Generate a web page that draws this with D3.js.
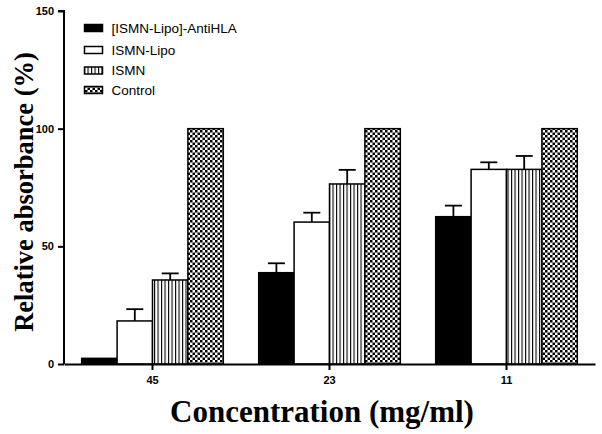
<!DOCTYPE html>
<html><head><meta charset="utf-8">
<script src="https://cdn.jsdelivr.net/npm/d3@7"></script>
<style>body{margin:0;background:#fff}</style>
</head><body>
<svg id="c" width="602" height="434"></svg>
<script>
const categories = ["45", "23", "11"];
const seriesNames = ["[ISMN-Lipo]-AntiHLA", "ISMN-Lipo", "ISMN", "Control"];
const antiHLA = [2.4, 38.8, 62.6];
const antiHLAErr = [0, 4, 4.7];
const lipo = [18.3, 60.3, 82.7];
const lipoErr = [5, 4, 3];
const ismn = [35.7, 76.5, 82.7];
const ismnErr = [2.8, 6, 5.7];
const control = [100, 100, 100];
const controlErr = [0, 0, 0];
const yTicks = [0, 50, 100, 150];

const values = [antiHLA, lipo, ismn, control];
const errs = [antiHLAErr, lipoErr, ismnErr, controlErr];
const fills = ["#000", "#fff", "url(#vstripe)", "url(#checker)"];

const svg = d3.select("#c");
const defs = svg.append("defs");
const vs = defs.append("pattern").attr("id", "vstripe").attr("patternUnits", "userSpaceOnUse")
  .attr("width", 3.5).attr("height", 10);
vs.append("rect").attr("width", 3.5).attr("height", 10).attr("fill", "#fff");
vs.append("rect").attr("x", 0).attr("width", 1.1).attr("height", 10).attr("fill", "#000");
const ck = defs.append("pattern").attr("id", "checker").attr("patternUnits", "userSpaceOnUse")
  .attr("width", 5).attr("height", 5);
ck.append("rect").attr("width", 5).attr("height", 5).attr("fill", "#fff");
ck.append("rect").attr("width", 2.5).attr("height", 2.5).attr("fill", "#000");
ck.append("rect").attr("x", 2.5).attr("y", 2.5).attr("width", 2.5).attr("height", 2.5).attr("fill", "#000");

const x0 = 64, x1 = 595, yTop = 11, yBot = 364;
const x = d3.scaleBand().domain(categories).range([x0, x1]).paddingInner(0.2).paddingOuter(0.1);
const xs = d3.scaleBand().domain(seriesNames).range([0, x.bandwidth()]);
const y = d3.scaleLinear().domain([0, 150]).range([yBot, yTop]);

const g = svg.append("g");
seriesNames.forEach((s, si) => {
  categories.forEach((c, ci) => {
    const v = values[si][ci], e = errs[si][ci];
    const bx = x(c) + xs(s), bw = xs.bandwidth();
    if (e > 0) {
      const cx = bx + bw / 2;
      g.append("line").attr("x1", cx).attr("x2", cx).attr("y1", y(v)).attr("y2", y(v + e))
        .attr("stroke", "#000").attr("stroke-width", 1.8);
      g.append("line").attr("x1", cx - 8.5).attr("x2", cx + 8.5).attr("y1", y(v + e)).attr("y2", y(v + e))
        .attr("stroke", "#000").attr("stroke-width", 1.8);
    }
    g.append("rect").attr("x", bx).attr("y", y(v)).attr("width", bw).attr("height", yBot - y(v))
      .attr("fill", fills[si]).attr("stroke", "#000").attr("stroke-width", 1.5);
  });
});

// axes
const yAxis = svg.append("g").attr("transform", `translate(${x0},0)`)
  .call(d3.axisLeft(y).tickValues(yTicks).tickSize(6).tickPadding(4));
yAxis.select(".domain").attr("d", `M-6,${yTop}H0V${yBot}`).attr("stroke-width", 2);
yAxis.selectAll(".tick line").attr("stroke-width", 2);
yAxis.selectAll("text").attr("font-family", "Liberation Sans, Arial, sans-serif")
  .attr("font-weight", "bold").attr("font-size", 11).attr("fill", "#000");

const xAxis = svg.append("g").attr("transform", `translate(0,${yBot})`)
  .call(d3.axisBottom(x).tickSize(6).tickPadding(6).tickSizeOuter(0));
xAxis.select(".domain").attr("stroke-width", 2);
xAxis.selectAll(".tick line").attr("stroke-width", 2);
xAxis.selectAll("text").attr("font-family", "Liberation Sans, Arial, sans-serif")
  .attr("font-weight", "bold").attr("font-size", 11).attr("fill", "#000");

// titles
svg.append("text").attr("transform", "translate(33,192) rotate(-90)")
  .attr("text-anchor", "middle").attr("font-family", "Liberation Serif, Times New Roman, serif")
  .attr("font-weight", "bold").attr("font-size", 26.5).text("Relative absorbance (%)");
svg.append("text").attr("x", 322).attr("y", 422)
  .attr("text-anchor", "middle").attr("font-family", "Liberation Serif, Times New Roman, serif")
  .attr("font-weight", "bold").attr("font-size", 31).text("Concentration (mg/ml)");

// legend
const leg = svg.append("g");
const legY = [28, 50, 70.5, 90];
seriesNames.forEach((s, i) => {
  leg.append("rect").attr("x", 84.5).attr("y", legY[i] - 3.5).attr("width", 18).attr("height", 7)
    .attr("fill", fills[i]).attr("stroke", "#000").attr("stroke-width", 1.5);
  leg.append("text").attr("x", 111.5).attr("y", legY[i]).attr("dy", "0.35em")
    .attr("font-family", "Liberation Sans, Arial, sans-serif").attr("font-size", 13.5).text(s);
});
</script>
</body></html>
